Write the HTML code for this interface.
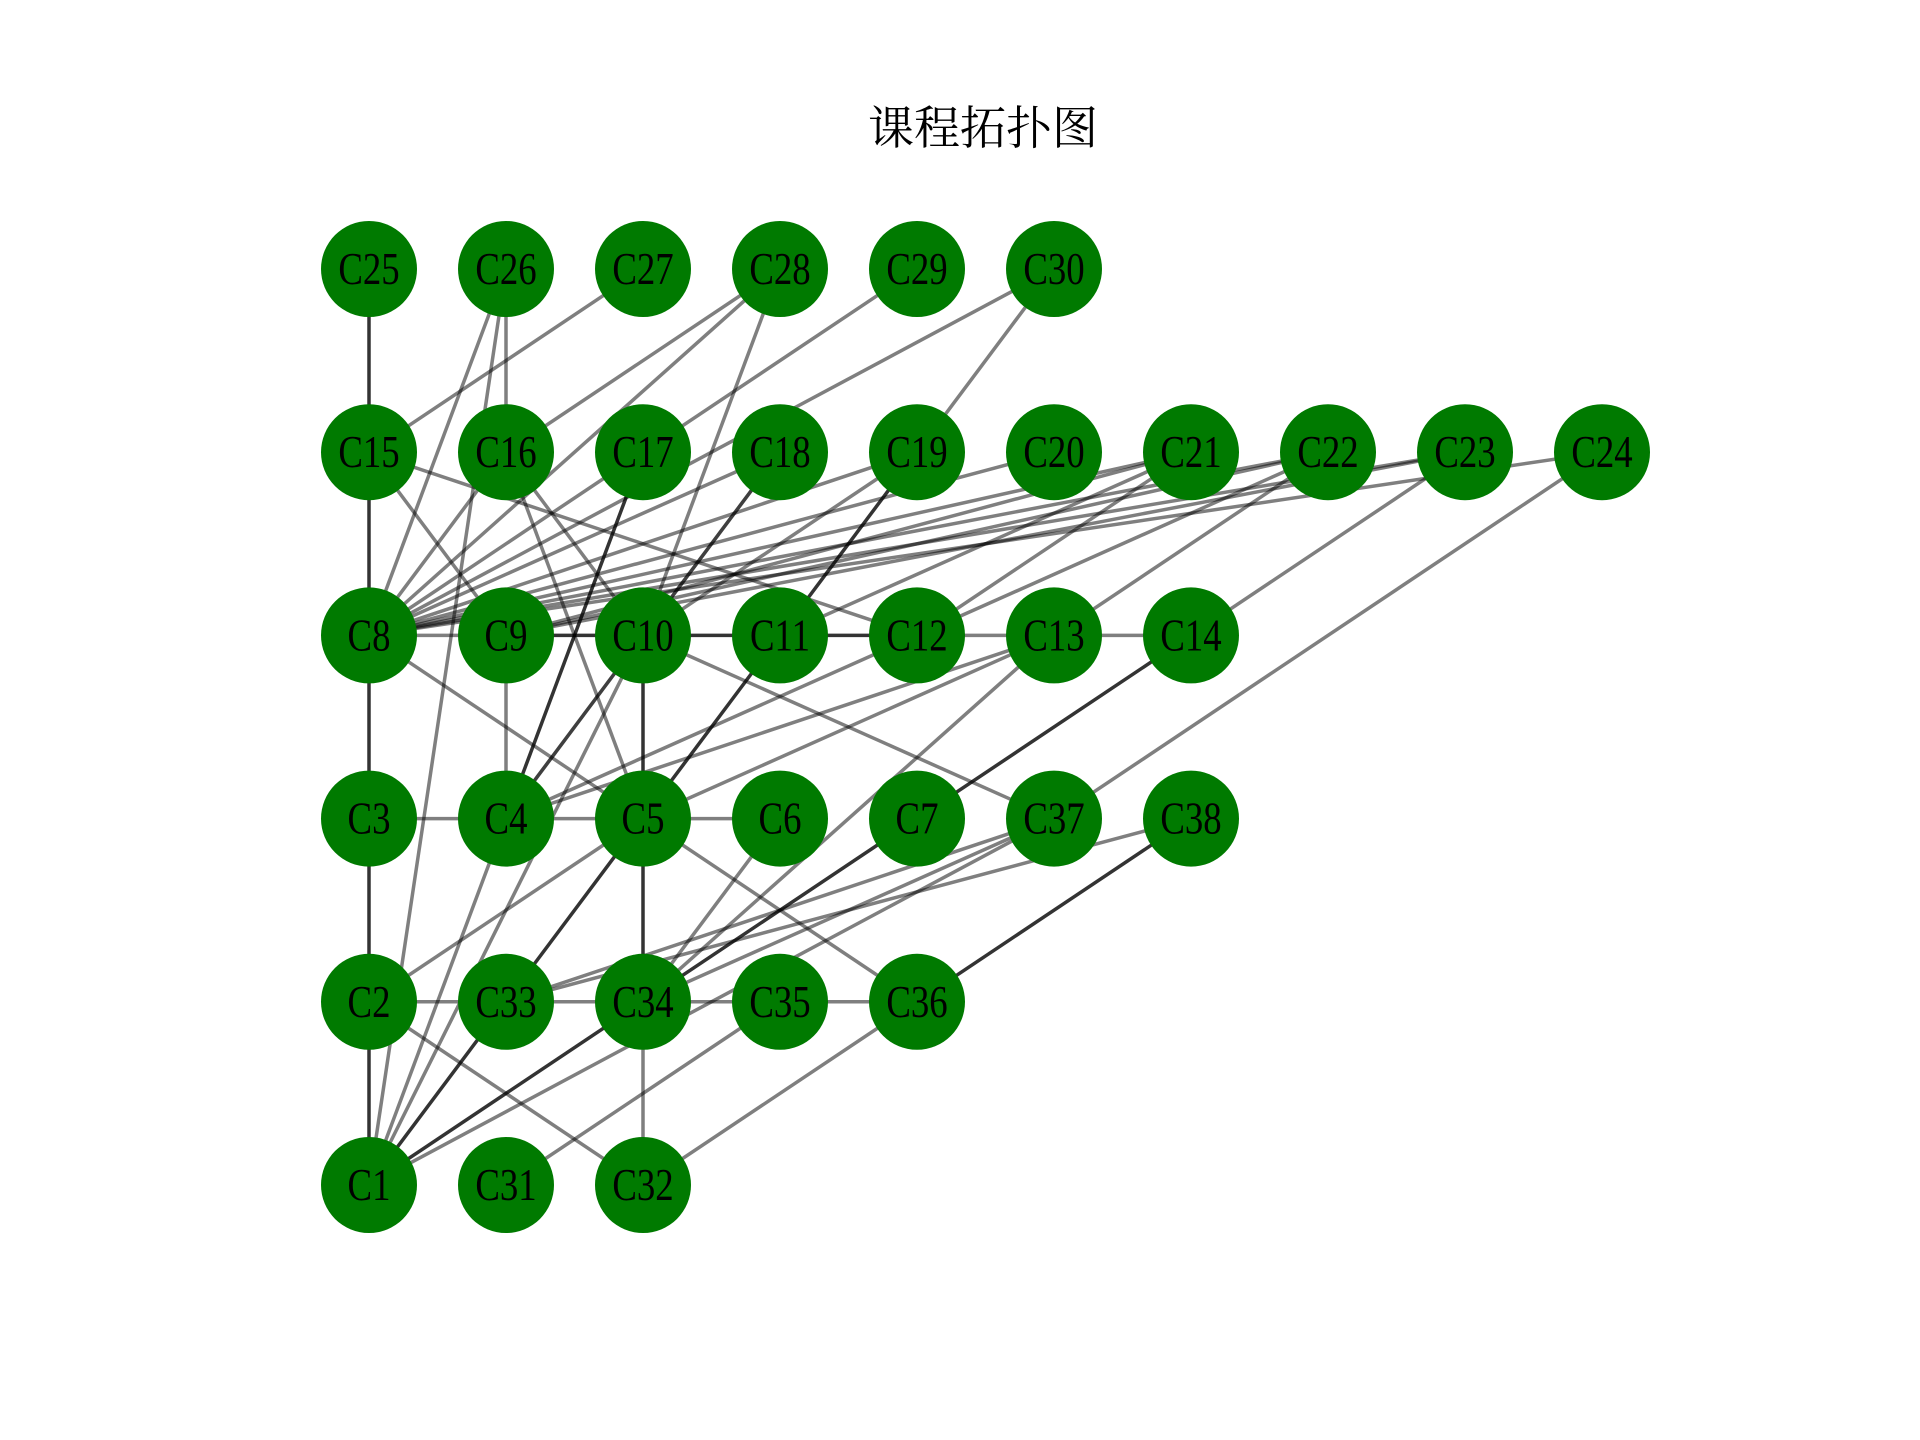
<!DOCTYPE html>
<html><head><meta charset="utf-8"><style>
html,body{margin:0;padding:0;background:#fff;}
svg{display:block;}
.lbl{font-family:"Liberation Serif","Noto Serif CJK SC",serif;font-size:46px;fill:#000;}
</style></head><body>
<svg id="chart" width="1920" height="1440" viewBox="0 0 1920 1440">
<text x="983" y="144" text-anchor="middle" style="font-family:'Liberation Serif','Noto Serif CJK SC',serif;font-size:46px">课程拓扑图</text>
<g id="edges"></g>
<g id="nodes"></g>
</svg>
<script>
// node grid placement: [name, column, row]
const nodeNames = ["C25","C26","C27","C28","C29","C30",
 "C15","C16","C17","C18","C19","C20","C21","C22","C23","C24",
 "C8","C9","C10","C11","C12","C13","C14",
 "C3","C4","C5","C6","C7","C37","C38",
 "C2","C33","C34","C35","C36",
 "C1","C31","C32"];
const nodeCols = [0,1,2,3,4,5, 0,1,2,3,4,5,6,7,8,9, 0,1,2,3,4,5,6, 0,1,2,3,4,5,6, 0,1,2,3,4, 0,1,2];
const nodeRows = [0,0,0,0,0,0, 1,1,1,1,1,1,1,1,1,1, 2,2,2,2,2,2,2, 3,3,3,3,3,3,3, 4,4,4,4,4, 5,5,5];
const darkEdges = [["C25","C15"],["C15","C8"],["C8","C3"],["C3","C2"],["C2","C1"],["C9","C10"],["C10","C11"],["C11","C12"],["C10","C5"],["C5","C34"],["C17","C4"],["C19","C11"],["C11","C5"],["C5","C33"],["C33","C1"],["C14","C7"],["C7","C34"],["C34","C1"],["C38","C36"]];
const greyEdges = [["C26","C16"],["C26","C8"],["C26","C1"],["C27","C15"],["C28","C16"],["C28","C8"],["C28","C10"],["C29","C17"],["C30","C8"],["C30","C19"],
 ["C15","C9"],["C15","C12"],["C16","C10"],["C16","C5"],["C17","C8"],["C18","C8"],["C19","C8"],["C20","C8"],["C21","C8"],["C22","C8"],["C23","C8"],["C24","C8"],["C23","C9"],["C8","C9"],["C8","C5"],["C8","C16"],
 ["C9","C4"],["C9","C21"],["C9","C22"],["C10","C18"],["C10","C19"],["C10","C37"],["C4","C10"],["C1","C10"],["C4","C18"],
 ["C3","C4"],["C4","C5"],["C4","C12"],["C4","C13"],["C5","C6"],["C5","C13"],["C5","C36"],["C5","C2"],["C2","C33"],["C2","C32"],
 ["C33","C34"],["C33","C37"],["C33","C38"],["C34","C35"],["C34","C32"],["C34","C6"],["C34","C13"],["C34","C37"],["C24","C37"],["C1","C37"],["C1","C4"],
 ["C31","C35"],["C32","C36"],["C35","C36"],["C14","C23"],["C13","C22"],["C13","C14"],["C12","C21"],["C12","C13"],["C12","C22"],["C11","C21"]];
</script>
<script>
const NS="http://www.w3.org/2000/svg";
const colX = c => 369 + c*137;
const rowY = r => 269 + r*183.2;
const pos = {};
nodeNames.forEach((n,i)=>{pos[n]=[colX(nodeCols[i]),rowY(nodeRows[i])];});
const eg=document.getElementById('edges');
function addEdge(e,op){
  const a=pos[e[0]],b=pos[e[1]];
  const l=document.createElementNS(NS,'line');
  l.setAttribute('x1',a[0]);l.setAttribute('y1',a[1]);
  l.setAttribute('x2',b[0]);l.setAttribute('y2',b[1]);
  l.setAttribute('stroke','#000');l.setAttribute('stroke-opacity',op);
  l.setAttribute('stroke-width','3.5');
  
  
  eg.appendChild(l);
}
greyEdges.forEach(e=>addEdge(e,0.5));
darkEdges.forEach(e=>addEdge(e,0.8));
const ng=document.getElementById('nodes');
nodeNames.forEach(n=>{
  const g=document.createElementNS(NS,'g');
  
  
  const c=document.createElementNS(NS,'circle');
  c.setAttribute('cx',pos[n][0]);c.setAttribute('cy',pos[n][1]);c.setAttribute('r',48);
  c.setAttribute('fill','#007a00');
  g.appendChild(c);
  const t=document.createElementNS(NS,'text');
  t.setAttribute('class','lbl');
  t.setAttribute('text-anchor','middle');
  t.setAttribute('transform','translate('+pos[n][0]+','+(pos[n][1]+15)+') scale(0.8,1)');
  t.textContent=n;
  
  
  g.appendChild(t);
  ng.appendChild(g);
});
</script>
</body></html>
